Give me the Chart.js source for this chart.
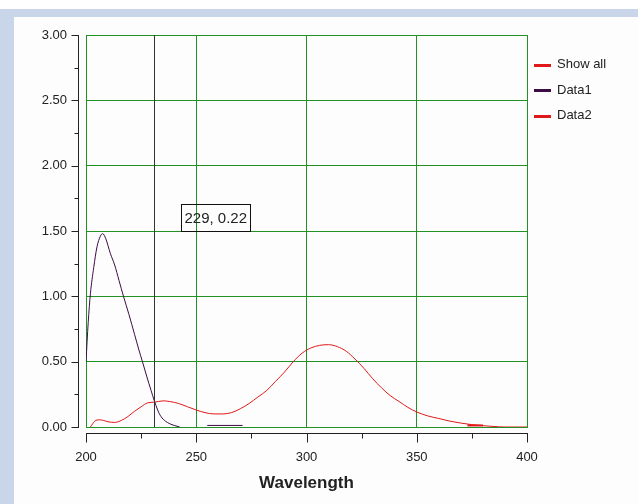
<!DOCTYPE html>
<html>
<head>
<meta charset="utf-8">
<script src="https://cdn.jsdelivr.net/npm/chart.js@4.4.1/dist/chart.umd.min.js"></script>
<style>
  body { margin: 0; background: #ffffff; }
  #frame { position: absolute; left: 0; top: 9px; width: 638px; height: 495px; background: #c9d6e9; }
  #chart { position: absolute; left: 14px; top: 17px; background: #fdfdfd; }
</style>
</head>
<body>
<div id="frame"></div>
<canvas id="chart" width="624" height="487"></canvas>
<script>
// Datos
const wlShowAll = [373, 380];
const absShowAll = [0.012, 0.012];

const wlData1 = [200, 201, 202, 203.5, 205, 206.5, 207.5, 209, 211, 213, 215, 217, 219.5, 222, 224, 225.6, 227.5, 229.5, 231, 232.5, 234, 236, 238, 240, 242.5, 248, 255, 271];
const absData1 = [0.50, 0.80, 1.02, 1.22, 1.38, 1.46, 1.48, 1.44, 1.33, 1.24, 1.12, 1.00, 0.86, 0.71, 0.59, 0.50, 0.39, 0.28, 0.20, 0.13, 0.08, 0.045, 0.025, 0.012, 0.0, null, 0.012, 0.012];

const wlData2 = [202, 204, 206, 208, 210, 213, 216, 219, 222, 225, 228, 231, 235, 238, 242, 246, 250, 254, 258, 262, 266, 270, 274, 278, 282, 286, 290, 294, 298, 302, 306, 310, 314, 318, 322, 326, 330, 334, 338, 342, 346, 350, 355, 360, 365, 370, 375, 380, 385, 390, 400];
const absData2 = [0.00, 0.045, 0.055, 0.05, 0.04, 0.035, 0.05, 0.08, 0.12, 0.155, 0.185, 0.19, 0.20, 0.195, 0.18, 0.155, 0.13, 0.11, 0.10, 0.10, 0.11, 0.14, 0.18, 0.23, 0.28, 0.35, 0.42, 0.50, 0.565, 0.605, 0.625, 0.63, 0.615, 0.58, 0.52, 0.45, 0.37, 0.30, 0.24, 0.195, 0.15, 0.115, 0.085, 0.065, 0.045, 0.03, 0.018, 0.01, 0.004, 0.0, 0.0];

const xMin = 200, xMax = 400, xStep = 50, xMinor = 25;
const yMin = 0, yMax = 3, yStep = 0.5, yMinor = 0.25;

// Cursor y etiqueta
const cursorWl = 231;
const cursorLabel = '229, 0.22';
const cursorLabelValue = 1.71;

const gridGreen = '#229022';
const textColor = '#222';

function toPoints(xs, ys) {
    return xs.map((v, i) => ({ x: v, y: ys[i] }));
}

// Ejes separados con marcas menores
const axisLines = {
    id: 'axisLines',
    afterDraw(chart) {
        const { ctx, chartArea, scales: { x, y } } = chart;
        ctx.save();
        ctx.strokeStyle = '#222';
        ctx.lineWidth = 1;
        ctx.beginPath();
        const ax = Math.round(chartArea.left) - 7.5;
        ctx.moveTo(ax, Math.round(y.getPixelForValue(yMax)) + 0.5);
        ctx.lineTo(ax, Math.round(y.getPixelForValue(yMin)) + 0.5);
        for (let v = yMin; v <= yMax + 1e-9; v += yMinor) {
            const p = Math.round(y.getPixelForValue(v)) + 0.5;
            const major = Math.abs(v / yStep - Math.round(v / yStep)) < 1e-6;
            ctx.moveTo(ax - (major ? 7 : 4), p);
            ctx.lineTo(ax + 0.5, p);
        }
        const ay = Math.round(chartArea.bottom) + 6.5;
        ctx.moveTo(Math.round(x.getPixelForValue(xMin)) + 0.5, ay);
        ctx.lineTo(Math.round(x.getPixelForValue(xMax)) + 0.5, ay);
        for (let v = xMin; v <= xMax; v += xMinor) {
            const p = Math.round(x.getPixelForValue(v)) + 0.5;
            const major = v % xStep === 0;
            ctx.moveTo(p, ay - 0.5);
            ctx.lineTo(p, ay + (major ? 9 : 5));
        }
        ctx.stroke();
        ctx.restore();
    }
};

// Línea del cursor y su etiqueta
const cursorPlugin = {
    id: 'cursorPlugin',
    afterDatasetsDraw(chart) {
        const { ctx, chartArea, scales: { x, y } } = chart;
        const px = Math.round(x.getPixelForValue(cursorWl)) + 0.5;
        ctx.save();
        ctx.strokeStyle = '#333';
        ctx.lineWidth = 1;
        ctx.beginPath();
        ctx.moveTo(px, chartArea.top);
        ctx.lineTo(px, chartArea.bottom);
        ctx.stroke();

        ctx.font = '15px "Liberation Sans", Arial, sans-serif';
        const w = ctx.measureText(cursorLabel).width + 6;
        const h = 27;
        const bx = Math.round(px + 26) + 0.5;
        const by = Math.round(y.getPixelForValue(cursorLabelValue)) + 0.5;
        ctx.strokeStyle = '#111';
        ctx.strokeRect(bx, by, Math.round(w), h);
        ctx.fillStyle = textColor;
        ctx.textBaseline = 'middle';
        ctx.textAlign = 'left';
        ctx.fillText(cursorLabel, bx + 3, by + h / 2 + 1);
        ctx.restore();
    }
};

// Leyenda a la derecha
const sideLegend = {
    id: 'sideLegend',
    afterDraw(chart) {
        const { ctx, chartArea } = chart;
        ctx.save();
        ctx.font = '13px "Liberation Sans", Arial, sans-serif';
        ctx.textBaseline = 'middle';
        chart.data.datasets.forEach((ds, i) => {
            const cy = chartArea.top + 29.5 + i * 25.5;
            const lx = chartArea.right + 7;
            ctx.fillStyle = ds.borderColor;
            ctx.fillRect(lx, Math.round(cy) - 1, 17, 3);
            ctx.fillStyle = textColor;
            ctx.fillText(ds.label, lx + 23, cy);
        });
        ctx.restore();
    }
};

const ctx = document.getElementById('chart').getContext('2d');
new Chart(ctx, {
    type: 'scatter',
    data: {
        datasets: [
            { label: 'Show all', data: toPoints(wlShowAll, absShowAll), borderColor: '#e01818', borderWidth: 2 },
            { label: 'Data1', data: toPoints(wlData1, absData1), borderColor: '#3c0c44', borderWidth: 1 },
            { label: 'Data2', data: toPoints(wlData2, absData2), borderColor: '#e01818', borderWidth: 1 }
        ]
    },
    options: {
        responsive: false,
        animation: false,
        showLine: true,
        spanGaps: false,
        elements: {
            point: { radius: 0, hoverRadius: 0 },
            line: { tension: 0, cubicInterpolationMode: 'monotone' }
        },
        layout: { padding: { top: 18, right: 111, left: 0, bottom: 0 } },
        plugins: {
            legend: { display: false },
            tooltip: { enabled: false }
        },
        scales: {
            x: {
                type: 'linear',
                min: xMin,
                max: xMax,
                afterFit(scale) { scale.height = 77; scale.paddingLeft = 0; scale.paddingRight = 0; },
                ticks: {
                    stepSize: xStep,
                    padding: 23,
                    color: textColor,
                    font: { family: '"Liberation Sans", Arial, sans-serif', size: 13 }
                },
                grid: { color: gridGreen, lineWidth: 1, drawTicks: false },
                border: { color: gridGreen },
                title: {
                    display: true,
                    text: 'Wavelength',
                    color: textColor,
                    padding: { top: 0, bottom: 10 },
                    font: { family: '"Liberation Sans", Arial, sans-serif', size: 17, weight: 'bold' }
                }
            },
            y: {
                type: 'linear',
                min: yMin,
                max: yMax,
                afterFit(scale) { scale.width = 72; scale.paddingTop = 0; scale.paddingBottom = 0; },
                ticks: {
                    stepSize: yStep,
                    padding: 19,
                    color: textColor,
                    font: { family: '"Liberation Sans", Arial, sans-serif', size: 13 },
                    callback: v => v.toFixed(2)
                },
                grid: { color: gridGreen, lineWidth: 1, drawTicks: false },
                border: { color: gridGreen }
            }
        }
    },
    plugins: [axisLines, cursorPlugin, sideLegend]
});
</script>
</body>
</html>
